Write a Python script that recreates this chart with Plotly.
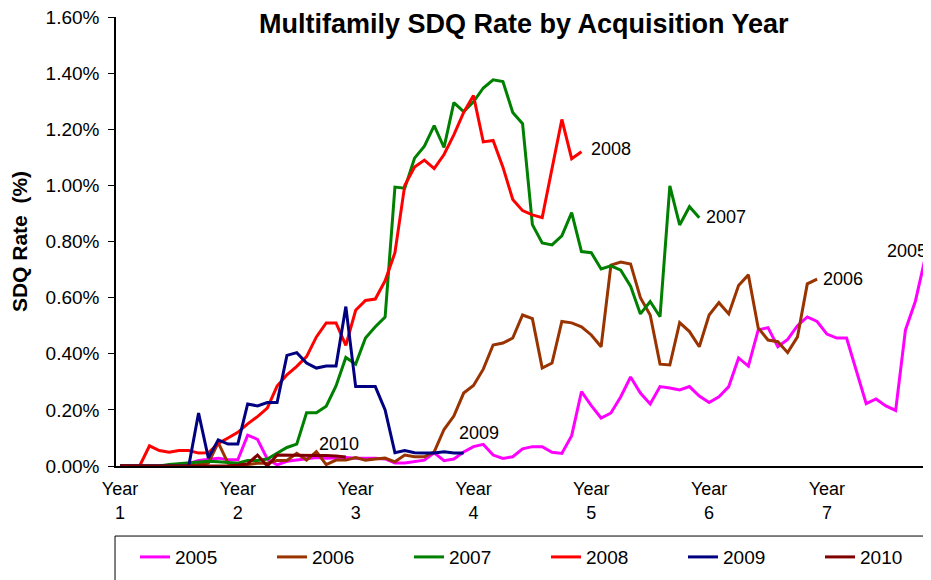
# SDQ rate multifamily par année d'acquisition (mensuel, en %)
import plotly.graph_objs as go

# Valeurs, une ligne par année écoulée (12 mois)
sdq_2005 = [0, 0, 0, 0, 0, 0, 0.003, 0.008, 0.02, 0.025, 0.028, 0.022,
            0.022, 0.11, 0.095, 0.025, 0.004, 0.017, 0.021, 0.025, 0.03, 0.028, 0.03, 0.03,
            0.028, 0.028, 0.028, 0.025, 0.011, 0.011, 0.015, 0.021, 0.047, 0.019, 0.025, 0.05,
            0.069, 0.077, 0.039, 0.027, 0.033, 0.061, 0.069, 0.069, 0.049, 0.045, 0.108, 0.265,
            0.215, 0.171, 0.189, 0.247, 0.317, 0.26, 0.221, 0.283, 0.278, 0.271, 0.283, 0.249,
            0.226, 0.247, 0.283, 0.385, 0.356, 0.485, 0.493, 0.425, 0.451, 0.5, 0.531, 0.515,
            0.47, 0.456, 0.456, 0.34, 0.222, 0.239, 0.214, 0.198, 0.485, 0.586, 0.74]
sdq_2006 = [0, 0, 0, 0, 0, 0, 0, 0, 0.005, 0.01, 0.083, 0.01,
            0.005, 0.005, 0.01, 0.01, 0.02, 0.02, 0.045, 0.021, 0.051, 0.005, 0.021, 0.021,
            0.03, 0.021, 0.025, 0.028, 0.015, 0.039, 0.033, 0.033, 0.05, 0.13, 0.178, 0.26,
            0.287, 0.345, 0.431, 0.438, 0.456, 0.538, 0.525, 0.349, 0.367, 0.515, 0.51, 0.496,
            0.467, 0.425, 0.716, 0.727, 0.72, 0.6, 0.538, 0.363, 0.36, 0.511, 0.479, 0.425,
            0.538, 0.582, 0.542, 0.643, 0.681, 0.492, 0.449, 0.443, 0.404, 0.46, 0.649, 0.666]
sdq_2007 = [0, 0, 0, 0, 0, 0.005, 0.008, 0.012, 0.015, 0.017, 0.015, 0.012,
            0.01, 0.02, 0.02, 0.025, 0.046, 0.066, 0.078, 0.19, 0.19, 0.213, 0.285, 0.387,
            0.363, 0.456, 0.496, 0.531, 0.994, 0.99, 1.097, 1.14, 1.213, 1.135, 1.295, 1.263,
            1.298, 1.347, 1.376, 1.37, 1.26, 1.22, 0.86, 0.795, 0.788, 0.82, 0.903, 0.764,
            0.76, 0.702, 0.713, 0.698, 0.641, 0.542, 0.586, 0.532, 0.998, 0.859, 0.924, 0.885]
sdq_2008 = [0, 0, 0, 0.072, 0.055, 0.049, 0.055, 0.055, 0.046, 0.047, 0.08, 0.10,
            0.12, 0.15, 0.176, 0.206, 0.285, 0.325, 0.355, 0.39, 0.46, 0.51, 0.51, 0.43,
            0.555, 0.59, 0.595, 0.66, 0.76, 1.0, 1.065, 1.09, 1.06, 1.11, 1.18, 1.26,
            1.32, 1.155, 1.16, 1.065, 0.95, 0.91, 0.895, 0.885, 1.06, 1.235, 1.095, 1.12]
sdq_2009 = [0, 0, 0, 0, 0, 0, 0, 0, 0.189, 0.028, 0.093, 0.078,
            0.078, 0.221, 0.214, 0.226, 0.226, 0.394, 0.404, 0.367, 0.349, 0.356, 0.356, 0.568,
            0.283, 0.283, 0.283, 0.2, 0.047, 0.055, 0.047, 0.046, 0.046, 0.051, 0.046, 0.046]
sdq_2010 = [0, 0, 0, 0, 0, 0, 0, 0, 0, 0, 0, 0,
            0.003, 0.008, 0.039, 0, 0.039, 0.038, 0.038, 0.038, 0.037, 0.037, 0.036, 0.032]

series_names = ["2005", "2006", "2007", "2008", "2009", "2010"]
series_colors = ["#FF00FF", "#993300", "#008000", "#FF0000", "#000080", "#800000"]
# deux légendes côte à côte (une seule ligne ne tient pas dans la largeur)
series_legend = ["legend", "legend", "legend", "legend2", "legend2", "legend2"]

year_ticks = [0, 12, 24, 36, 48, 60, 72]
year_labels = ["Year<br>1", "Year<br>2", "Year<br>3", "Year<br>4", "Year<br>5", "Year<br>6", "Year<br>7"]
y_ticks = [0, 0.2, 0.4, 0.6, 0.8, 1.0, 1.2, 1.4, 1.6]
y_labels = ["0.00%", "0.20%", "0.40%", "0.60%", "0.80%", "1.00%", "1.20%", "1.40%", "1.60%"]

FONT = "Arial, 'Liberation Sans', sans-serif"

fig = go.Figure()
all_series = [sdq_2005, sdq_2006, sdq_2007, sdq_2008, sdq_2009, sdq_2010]
for name, vals, color, leg in zip(series_names, all_series, series_colors, series_legend):
    fig.add_trace(go.Scatter(
        x=list(range(len(vals))),
        y=vals,
        mode="lines",
        name=name,
        legend=leg,
        line=dict(color=color, width=3),
    ))

# Étiquettes au bout des courbes (décalage en pixels)
label_pos = {
    "2005": dict(xanchor="right", xshift=4, yshift=7),
    "2006": dict(xanchor="left", xshift=4, yshift=0),
    "2007": dict(xanchor="left", xshift=5, yshift=1),
    "2008": dict(xanchor="left", xshift=8, yshift=3),
    "2009": dict(xanchor="center", xshift=15, yshift=20),
    "2010": dict(xanchor="center", xshift=-7, yshift=13),
}
for name, vals in zip(series_names, all_series):
    p = label_pos[name]
    fig.add_annotation(
        x=len(vals) - 1, y=vals[-1], text=name, showarrow=False,
        xanchor=p["xanchor"], yanchor="middle",
        xshift=p["xshift"], yshift=p["yshift"],
        font=dict(family=FONT, size=18, color="#000000"),
    )

# Titre
fig.add_annotation(
    text="<b>Multifamily SDQ Rate by Acquisition Year</b>",
    xref="paper", yref="paper", x=0.5, y=0.985,
    xanchor="center", yanchor="middle", showarrow=False,
    font=dict(family=FONT, size=27, color="#000000"),
)

# Cadre de la légende (déborde à droite et en bas comme sur l'original)
fig.add_shape(
    type="rect", xref="paper", yref="paper",
    x0=-0.0012, x1=1.1, y0=-0.156, y1=-0.4,
    line=dict(color="#000000", width=1), fillcolor="rgba(0,0,0,0)",
)

legend_style = dict(
    orientation="h", xanchor="left", y=-0.1605, yanchor="top",
    borderwidth=0, bgcolor="rgba(0,0,0,0)",
    entrywidth=92, entrywidthmode="pixels",
    font=dict(family=FONT, size=19, color="#000000"),
)

# La page ajoute 8 px de marge autour de la figure : on compense ici
fig.update_layout(
    width=923, height=572,
    margin=dict(l=108, r=0, t=9, b=114, autoexpand=False),
    paper_bgcolor="white", plot_bgcolor="white",
    font=dict(family=FONT, size=18, color="#000000"),
    legend=dict(x=0.0233, **legend_style),
    legend2=dict(x=0.5276, **legend_style),
    showlegend=True,
)

fig.update_xaxes(
    range=[-0.41, 82.6],
    tickmode="array", tickvals=year_ticks, ticktext=year_labels,
    showgrid=False, zeroline=False, automargin=False,
    showline=True, linecolor="#000000", linewidth=1.5,
    ticks="", ticklabelstandoff=6,
    tickfont=dict(family=FONT, size=18, color="#000000"),
)
fig.update_yaxes(
    range=[0, 1.6],
    tickmode="array", tickvals=y_ticks, ticktext=y_labels,
    showgrid=False, zeroline=False, automargin=False,
    showline=True, linecolor="#000000", linewidth=1.5,
    ticks="outside", ticklen=6, tickcolor="#000000",
    ticklabelstandoff=5, ticklabeloverflow="allow",
    tickfont=dict(family=FONT, size=19, color="#000000"),
    title=dict(text="<b>SDQ Rate  (%)</b>", font=dict(family=FONT, size=21, color="#000000"),
               standoff=12),
)

fig.write_html("out.html")
